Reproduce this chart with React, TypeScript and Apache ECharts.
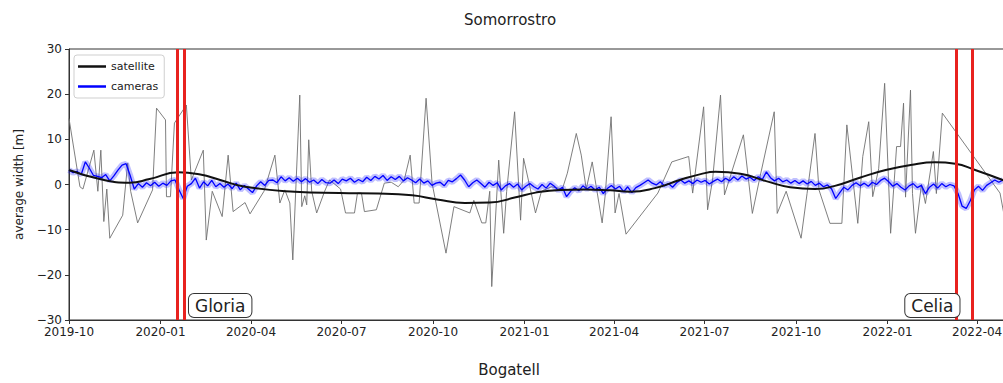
import React, { useEffect, useRef } from "react";
import * as echarts from "echarts";

// ---------- data ----------
const xMin = "2019-10-01";
const xMax = "2022-04-29";
const yTicks = [-30, -20, -10, 0, 10, 20, 30];

// satellite raw shoreline width (thin grey line)
const satDates = [
  "2019-10-01", "2019-10-12", "2019-10-15", "2019-10-26", "2019-10-30", "2019-11-02", "2019-11-05", "2019-11-08",
  "2019-11-11", "2019-11-24", "2019-11-29", "2019-12-02", "2019-12-09", "2019-12-24", "2019-12-28", "2020-01-06",
  "2020-01-07", "2020-01-11", "2020-01-15", "2020-01-27", "2020-02-01", "2020-02-13", "2020-02-16", "2020-02-22",
  "2020-03-03", "2020-03-09", "2020-03-14", "2020-03-26", "2020-03-31", "2020-04-14", "2020-04-25", "2020-04-30",
  "2020-05-05", "2020-05-10", "2020-05-13", "2020-05-20", "2020-05-22", "2020-05-25", "2020-05-27", "2020-05-29",
  "2020-06-01", "2020-06-06", "2020-06-14", "2020-06-19", "2020-06-30", "2020-07-05", "2020-07-14", "2020-07-17",
  "2020-07-21", "2020-07-24", "2020-08-05", "2020-08-13", "2020-08-20", "2020-08-27", "2020-09-02", "2020-09-08",
  "2020-09-12", "2020-09-17", "2020-09-24", "2020-09-30", "2020-10-14", "2020-10-22", "2020-11-07", "2020-11-11",
  "2020-11-19", "2020-11-23", "2020-11-27", "2020-11-29", "2020-12-06", "2020-12-11", "2020-12-14", "2020-12-22",
  "2020-12-28", "2020-12-31", "2021-01-07", "2021-01-12", "2021-01-18", "2021-01-28", "2021-02-08", "2021-02-13",
  "2021-02-22", "2021-02-27", "2021-03-04", "2021-03-10", "2021-03-20", "2021-03-23", "2021-03-29", "2021-04-02",
  "2021-04-06", "2021-04-13", "2021-05-15", "2021-05-29", "2021-06-15", "2021-06-19", "2021-06-30", "2021-07-04",
  "2021-07-09", "2021-07-17", "2021-07-21", "2021-08-09", "2021-08-18", "2021-08-26", "2021-09-09", "2021-09-12",
  "2021-09-21", "2021-10-06", "2021-10-12", "2021-10-20", "2021-10-24", "2021-11-04", "2021-11-16", "2021-11-21",
  "2021-12-02", "2021-12-07", "2021-12-13", "2021-12-17", "2021-12-23", "2021-12-29", "2022-01-04", "2022-01-10",
  "2022-01-14", "2022-01-17", "2022-01-19", "2022-01-24", "2022-01-26", "2022-01-29", "2022-02-04", "2022-02-08",
  "2022-02-16", "2022-02-19", "2022-02-25", "2022-04-24", "2022-05-05",
];
const satValues = [
  14.6, -0.5, -1.0, 7.6, -1.5, 7.6, -8.2, -1.0,
  -11.9, -6.8, 4.7, -1.5, -8.5, -1.2, 16.9, 14.3,
  -2.7, -2.7, 13.6, 17.6, 1.0, 7.6, -12.3, -1.5,
  -7.1, 6.5, -6.0, -4.0, -6.5, -1.5, 6.5, -4.1,
  -1.2, -4.1, -16.7, 19.8, -4.9, -2.5, -4.5, 9.9,
  -1.5, -6.3, -1.5, 1.0, -1.0, -6.3, -6.3, -1.9,
  -1.9, -6.0, -5.6, 0.3, 0.5, -0.5, 1.0, 6.5,
  -4.1, -4.1, 19.1, 0.3, -15.2, -4.9, -6.3, -3.5,
  -8.5, -8.5, -1.5, -22.6, 5.4, -10.8, -1.5, 16.1,
  -7.9, 5.8, -1.2, -6.3, -1.5, -0.5, -1.0, 2.5,
  11.3, 6.5, -1.0, 5.0, -8.5, -2.5, 15.0, -6.3,
  -2.0, -11.0, -1.9, 5.0, 6.2, -1.9, 17.2, -5.6,
  1.0, 19.8, -2.3, 11.0, -6.4, 2.0, 16.1, -6.4,
  -1.5, -11.9, -2.0, 11.3, -1.2, -8.6, -8.6, 13.2,
  -8.6, 6.2, 13.9, -2.7, 3.5, 22.4, -10.8, 8.4,
  8.4, 18.0, -2.8, 20.9, -2.0, -10.8, 0.0, -4.2,
  7.3, -2.0, 15.8, -1.9, -15.0,
];

// satellite smoothed trend (black line)
const trendDates = [
  "2019-10-01", "2019-11-01", "2019-12-01", "2019-12-21", "2020-01-19", "2020-02-10", "2020-03-01", "2020-03-26",
  "2020-05-15", "2020-06-29", "2020-08-07", "2020-09-10", "2020-10-05", "2020-11-02", "2020-11-27", "2020-12-22",
  "2021-01-12", "2021-02-06", "2021-03-03", "2021-03-28", "2021-04-17", "2021-05-12", "2021-06-06", "2021-06-27",
  "2021-07-12", "2021-08-06", "2021-08-31", "2021-09-25", "2021-10-20", "2021-11-09", "2021-12-04", "2021-12-30",
  "2022-01-24", "2022-02-18", "2022-03-10", "2022-03-30", "2022-04-29",
];
const trendValues = [
  3.2, 1.2, 0.4, 1.2, 2.7, 2.2, 1.0, -0.5,
  -1.6, -1.9, -2.0, -2.4, -3.3, -4.1, -4.0, -2.9,
  -1.8, -1.2, -1.1, -1.3, -1.6, -0.8, 1.0, 2.3,
  2.8, 2.4, 0.8, -0.6, -1.0, -0.3, 1.5, 3.2,
  4.3, 4.9, 4.6, 3.2, 0.8,
];

// camera-derived width, one sample every 4.1 days from 2019-10-01
const cameraStart = "2019-10-01";
const cameraStepDays = 4.1;
const cameraValues = [
  3.2, 2.6, 2.9, 2.2, 5.0, 3.6, 2.0, 1.8, 1.5, 2.2,
  0.8, 1.9, 3.2, 4.3, 4.6, 2.0, -1.0, 0.2, -0.6, 0.4,
  -0.3, 0.5, -0.4, 0.3, -0.2, 0.8, 1.0, -1.2, -3.1, -0.4,
  0.2, 1.4, -0.8, 0.6, -0.3, 0.9, -0.5, 0.2, -0.6, 0.1,
  -0.9, 0.3, -1.2, -0.2, -1.0, -1.8, -0.3, 0.6, -0.2, 0.9,
  1.0, 0.4, 1.7, 0.8, 1.5, 0.7, 1.4, 0.6, 1.3, 0.5,
  1.0, 0.2, 1.1, 0.4, 0.3, 1.0, 0.2, 1.2, 0.8, 1.4,
  0.5, 1.1, 0.6, 1.6, 0.9, 1.8, 1.2, 2.0, 0.9, 1.7,
  1.1, 1.8, 0.8, 1.5, 1.0, 0.4, 1.2, 0.3, 0.8, -0.2,
  0.3, 0.5, -0.3, 0.9, 0.6, 1.3, 2.1, 1.0, -0.5, 0.4,
  1.0, 0.2, -0.6, 0.5, -0.2, 0.4, -1.2, -0.3, 0.2, -0.6,
  0.1, -1.2, -0.4, 0.2, -0.5, -1.0, 0.0, -0.8, 0.3, -0.4,
  -1.3, -0.6, -2.7, -1.5, -0.7, -1.4, -0.3, -1.0, -0.4, -1.2,
  -0.6, -2.0, -0.9, -0.2, -1.0, -0.4, -1.6, -0.5, -1.8, -0.7,
  -0.2, 0.4, 1.0, 0.3, -0.1, 0.6, -0.3, 0.2, -0.6, 0.4,
  1.0, 0.3, 0.8, 0.2, 1.0, 0.5, 0.9, 0.1, 0.7, 1.2,
  0.6, 1.4, 0.8, 1.7, 1.0, 1.9, 1.2, 1.6, 0.9, 1.7,
  1.1, 2.8, 1.5, 0.8, 1.4, 0.6, 1.0, 0.3, 0.9, 0.2,
  0.8, 0.1, 0.7, -0.2, 0.3, -0.5, -0.1, -1.0, -3.1, -1.8,
  -0.6, -1.2, -0.2, 0.4, -0.3, 0.3, -0.4, 0.5, 0.0, 0.9,
  1.4, 0.6, -0.4, 0.2, -0.6, -1.2, -0.3, 0.2, -0.7, -0.2,
  -2.0, -0.6, 0.1, -0.8, 0.2, -0.5, 0.0, -0.3, -2.0, -4.8,
  -5.3, -3.6, -1.2, -0.4, -1.3, -0.2, 0.4, 1.0, 0.5, 1.0,
];

// storm markers
const stormLineDates = ["2020-01-18", "2020-01-25", "2022-03-11", "2022-03-27"];
const stormNames = ["Gloria", "Celia"];
const stormLabelDates = ["2020-03-01", "2022-02-15"];
const stormLabelValue = -26.8;

// ---------- helpers ----------
const fmtMonth = (v: number) => {
  const d = new Date(v);
  return `${d.getFullYear()}-${String(d.getMonth() + 1).padStart(2, "0")}`;
};
const fmtY = (v: number) => (v < 0 ? "\u2212" + Math.abs(v) : String(v));
const DAY = 86400000;
const parseDay = (s: string) => {
  const [y, m, d] = s.split("-").map(Number);
  return new Date(y, m - 1, d).getTime();
};

export default function App() {
  const ref = useRef<HTMLDivElement>(null);
  useEffect(() => {
    document.body.style.margin = "0";
    if (!ref.current) return;
    const chart = echarts.init(ref.current, undefined, { renderer: "svg" });

    const satData = satDates.map((d, i) => [d, satValues[i]]);
    const trendData = trendDates.map((d, i) => [d, trendValues[i]]);
    const t0 = parseDay(cameraStart);
    const camData = cameraValues.map((v, i) => [t0 + i * cameraStepDays * DAY, v]);

    const font = "DejaVu Sans";
    chart.setOption({
      animation: false,
      textStyle: { fontFamily: font },
      title: [
        {
          text: "Somorrostro",
          left: 510,
          top: 12,
          padding: 0,
          textAlign: "center",
          textStyle: { fontSize: 15, fontWeight: "normal", color: "#222", fontFamily: font },
        },
        {
          text: "Bogatell",
          left: 509,
          top: 362,
          padding: 0,
          textAlign: "center",
          textStyle: { fontSize: 15, fontWeight: "normal", color: "#222", fontFamily: font },
        },
      ],
      legend: {
        data: ["satellite", "cameras"],
        orient: "vertical",
        left: 74,
        top: 55,
        padding: [6, 6, 6, 4],
        itemGap: 9,
        icon: "rect",
        itemWidth: 28,
        itemHeight: 2.5,
        backgroundColor: "#fff",
        borderColor: "#cfcfcf",
        borderWidth: 1,
        borderRadius: 3,
        selectedMode: false,
        textStyle: { fontSize: 11, color: "#222", fontFamily: font },
      },
      grid: {
        left: 69,
        right: -2,
        top: 49,
        bottom: 63,
        show: true,
        borderColor: "#333",
        borderWidth: 1,
        outerBoundsMode: "none",
        containLabel: false,
      },
      xAxis: {
        type: "time",
        min: xMin,
        max: xMax,
        minInterval: 95 * DAY,
        maxInterval: 95 * DAY,
        axisLine: { show: true, onZero: false, lineStyle: { color: "#333" } },
        axisTick: { show: true, length: 4, lineStyle: { color: "#333" } },
        splitLine: { show: false },
        axisLabel: {
          formatter: (v: number) => fmtMonth(v),
          fontSize: 12,
          color: "#222",
          margin: 6,
          showMaxLabel: false,
          fontFamily: font,
        },
      },
      yAxis: {
        type: "value",
        min: yTicks[0],
        max: yTicks[yTicks.length - 1],
        interval: 10,
        name: "average width [m]",
        nameLocation: "middle",
        nameGap: 44,
        nameTextStyle: { fontSize: 12, color: "#222", fontFamily: font },
        axisLine: { show: true, lineStyle: { color: "#333" } },
        axisTick: { show: true, length: 4, lineStyle: { color: "#333" } },
        splitLine: { show: false },
        axisLabel: { formatter: fmtY, fontSize: 12, color: "#222", margin: 7, fontFamily: font },
      },
      series: [
        {
          name: "satellite raw",
          type: "line",
          data: satData,
          symbol: "none",
          z: 1,
          lineStyle: { color: "#707070", width: 0.9 },
          itemStyle: { color: "#707070" },
          silent: true,
        },
        {
          name: "cameras band",
          type: "line",
          data: camData,
          symbol: "none",
          z: 2,
          lineStyle: { color: "rgba(30,30,255,0.28)", width: 6 },
          itemStyle: { color: "rgba(30,30,255,0.28)" },
          silent: true,
        },
        {
          name: "cameras",
          type: "line",
          data: camData,
          symbol: "none",
          z: 3,
          lineStyle: { color: "#0000ff", width: 1.3 },
          itemStyle: { color: "#0000ff" },
          silent: true,
        },
        {
          name: "satellite",
          type: "line",
          data: trendData,
          symbol: "none",
          smooth: true,
          z: 4,
          lineStyle: { color: "#111", width: 2 },
          itemStyle: { color: "#111" },
          silent: true,
          markLine: {
            silent: true,
            symbol: "none",
            label: { show: false },
            lineStyle: { color: "#e8221f", width: 3, type: "solid" },
            data: stormLineDates.map((d) => ({ xAxis: d })),
          },
          markPoint: {
            symbol: "circle",
            symbolSize: 1,
            itemStyle: { color: "rgba(0,0,0,0)" },
            label: {
              show: true,
              position: "inside",
              formatter: "{b}",
              fontSize: 17,
              color: "#222",
              fontFamily: font,
              backgroundColor: "#fff",
              borderColor: "#333",
              borderWidth: 1,
              borderRadius: 5,
              padding: [3, 6, 3, 6],
            },
            data: stormNames.map((n, i) => ({ name: n, coord: [stormLabelDates[i], stormLabelValue] })),
          },
        },
      ],
    });
    return () => chart.dispose();
  }, []);
  return <div ref={ref} style={{ width: 1003, height: 383 }} />;
}
